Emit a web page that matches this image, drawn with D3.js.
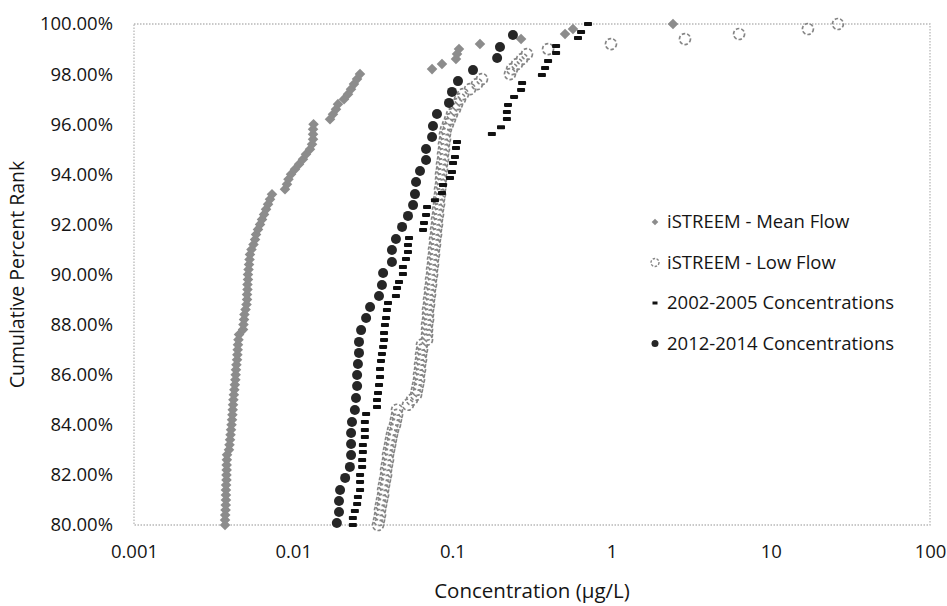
<!DOCTYPE html>
<html>
<head>
<meta charset="utf-8">
<script src="https://cdn.jsdelivr.net/npm/d3@7"></script>
<style>
  body { margin: 0; background: #fff; }
  svg text { font-family: 'Open Sans', 'Noto Sans', sans-serif; fill: #151515; }
</style>
</head>
<body>
<div id="chart"></div>
<script>
// percent ranks shared by both iSTREEM series (top 20% only)
const istreemRank = [80.0,80.2,80.4,80.6,80.8,81.0,81.2,81.4,81.6,81.8,82.0,82.2,82.4,82.6,82.8,83.0,83.2,83.4,83.6,83.8,
  84.0,84.2,84.4,84.6,84.8,85.0,85.2,85.4,85.6,85.8,86.0,86.2,86.4,86.6,86.8,87.0,87.2,87.4,87.6,87.8,
  88.0,88.2,88.4,88.6,88.8,89.0,89.2,89.4,89.6,89.8,90.0,90.2,90.4,90.6,90.8,91.0,91.2,91.4,91.6,91.8,
  92.0,92.2,92.4,92.6,92.8,93.0,93.2,93.4,93.6,93.8,94.0,94.2,94.4,94.6,94.8,95.0,95.2,95.4,95.6,95.8,
  96.0,96.2,96.4,96.6,96.8,97.0,97.2,97.4,97.6,97.8,98.0,98.2,98.4,98.6,98.8,99.0,99.2,99.4,99.6,99.8,100.0]

const meanFlow = [0.00373,0.00373,0.00374,0.00376,0.00377,0.00378,0.00378,0.00378,0.00379,0.00381,
  0.00381,0.00382,0.00382,0.00383,0.00384,0.00395,0.00398,0.00401,0.00404,0.00407,
  0.00410,0.00413,0.00415,0.00417,0.00419,0.00421,0.00424,0.00427,0.00430,0.00433,
  0.00435,0.00437,0.00440,0.00444,0.00446,0.00448,0.00450,0.00453,0.00457,0.00484,
  0.00487,0.00491,0.00494,0.00502,0.00509,0.00513,0.00513,0.00516,0.00516,0.00520,
  0.00520,0.00524,0.00528,0.00532,0.00535,0.00547,0.00563,0.00576,0.00584,0.00601,
  0.00619,0.00637,0.00656,0.00675,0.00695,0.00715,0.00736,0.00888,0.00914,0.00934,
  0.00969,0.01026,0.01088,0.01152,0.01203,0.01275,0.01313,0.01332,0.01332,0.01332,
  0.01342,0.01703,0.01778,0.01857,0.01911,0.02085,0.02209,0.02307,0.02409,0.02517,
  0.02627,0.0745,0.0860,0.1053,0.1069,0.1100,0.149,0.270,0.510,0.572,
  2.43]

const lowFlow = [0.0341,0.0346,0.0351,0.0351,0.0356,0.0361,0.0367,0.0367,0.0372,0.0377,
  0.0383,0.0383,0.0388,0.0394,0.0394,0.0400,0.0406,0.0411,0.0417,0.0424,
  0.0436,0.0442,0.0449,0.0449,0.0526,0.0557,0.0591,0.0599,0.0608,0.0617,
  0.0617,0.0626,0.0626,0.0635,0.0635,0.0644,0.0644,0.0693,0.0693,0.0693,
  0.0693,0.0703,0.0703,0.0703,0.0713,0.0713,0.0723,0.0723,0.0734,0.0734,
  0.0745,0.0745,0.0755,0.0755,0.0766,0.0766,0.0777,0.0777,0.0789,0.0789,
  0.0800,0.0800,0.0812,0.0812,0.0824,0.0824,0.0836,0.0836,0.0848,0.0848,
  0.0848,0.0860,0.0860,0.0873,0.0873,0.0885,0.0885,0.0898,0.0898,0.0911,
  0.0938,0.0966,0.0994,0.1038,0.1069,0.1116,0.1166,0.129,0.1427,0.1534,
  0.230,0.237,0.2545,0.274,0.294,0.399,0.991,2.89,6.32,17.1,
  26.4]

const rank0205 = [80.00,80.28,80.56,80.84,81.12,81.40,81.72,82.00,82.32,82.59,82.91,83.19,83.51,83.79,84.11,84.43,84.71,84.99,
  85.27,85.59,85.91,86.23,86.55,86.83,87.11,87.39,87.66,87.98,88.26,88.58,88.86,89.14,89.46,89.70,90.02,90.30,
  90.62,90.90,91.18,91.46,91.78,92.06,92.38,92.69,92.96,93.25,93.57,93.85,94.09,94.45,94.69,95.05,95.29,95.61,
  95.88,96.21,96.49,96.77,97.09,97.37,97.64,97.96,98.24,98.52,98.84,99.12,99.44,99.68,100.00]
const conc0205 = [0.0237,0.0237,0.0244,0.0252,0.0255,0.0263,0.0263,0.0263,0.0271,0.0271,0.0274,0.0274,0.0282,0.0282,0.0282,0.0287,0.0336,0.0336,
  0.0341,0.0346,0.0351,0.0351,0.0356,0.0361,0.0367,0.0372,0.0372,0.0377,0.0383,0.0388,0.0394,0.0442,0.0449,0.0462,0.0489,0.0489,
  0.0511,0.0526,0.0526,0.0534,0.0654,0.0663,0.0683,0.0693,0.0777,0.0860,0.0873,0.0966,0.0994,0.1009,0.1038,0.1053,0.1069,0.177,
  0.202,0.220,0.220,0.2235,0.244,0.270,0.274,0.365,0.382,0.399,0.448,0.448,0.615,0.643,0.711]

const rank1214 = [80.08,80.52,80.96,81.40,81.88,82.32,82.79,83.23,83.67,84.11,84.59,85.07,85.55,85.99,86.43,86.87,87.31,87.78,
  88.26,88.70,89.14,89.58,90.06,90.50,90.98,91.42,91.90,92.34,92.77,93.21,93.69,94.13,94.57,95.01,95.49,95.93,
  96.41,96.85,97.29,97.72,98.16,98.64,99.08,99.56]
const conc1214 = [0.0188,0.0194,0.0194,0.0197,0.0212,0.0227,0.0231,0.0231,0.0231,0.0234,0.0244,0.0248,0.0252,0.0252,0.0255,0.0259,0.0259,0.0267,
  0.0287,0.0304,0.0346,0.0361,0.0367,0.0417,0.0417,0.0442,0.0483,0.0526,0.0566,0.0582,0.0591,0.0626,0.0683,0.0683,0.0745,0.0755,
  0.0800,0.0952,0.0994,0.1084,0.1347,0.191,0.199,0.240]

const xTicks = [0.001, 0.01, 0.1, 1, 10, 100]
const xTickLabels = ['0.001', '0.01', '0.1', '1', '10', '100']
const yTicks = [80, 82, 84, 86, 88, 90, 92, 94, 96, 98, 100]
const legendLabels = ['iSTREEM - Mean Flow', 'iSTREEM - Low Flow', '2002-2005 Concentrations', '2012-2014 Concentrations']

const width = 947
const height = 606
const margin = { top: 24, right: 17, bottom: 81, left: 134 }

const svg = d3.select('#chart')
  .append('svg')
  .attr('width', width)
  .attr('height', height)

const x = d3.scaleLog()
  .domain([0.001, 100])
  .range([margin.left, width - margin.right])

const y = d3.scaleLinear()
  .domain([80, 100])
  .range([height - margin.bottom, margin.top])

// dotted plot frame
svg.append('rect')
  .attr('x', x(0.001))
  .attr('y', y(100))
  .attr('width', x(100) - x(0.001))
  .attr('height', y(80) - y(100))
  .attr('fill', 'none')
  .attr('stroke', '#b8b8b8')
  .attr('stroke-width', 1.3)
  .attr('stroke-dasharray', '1.5,1.5')

// axes, labels only
const xAxis = svg.append('g')
  .attr('transform', `translate(0,${y(80) + 17})`)
  .call(d3.axisBottom(x).tickValues(xTicks).tickSize(0).tickFormat((d, i) => xTickLabels[i]))
xAxis.select('.domain').remove()
xAxis.selectAll('text').attr('font-size', 18.5).attr('fill', '#151515')

const yAxis = svg.append('g')
  .attr('transform', `translate(${x(0.001) - 18},0)`)
  .call(d3.axisLeft(y).tickValues(yTicks).tickSize(0).tickFormat(d => d.toFixed(2) + '%'))
yAxis.select('.domain').remove()
yAxis.selectAll('text').attr('font-size', 18.5).attr('fill', '#151515')

svg.append('text')
  .attr('x', (x(0.001) + x(100)) / 2)
  .attr('y', 598)
  .attr('text-anchor', 'middle')
  .attr('font-size', 20.5)
  .text('Concentration (µg/L)')

svg.append('text')
  .attr('transform', `translate(24,${(y(80) + y(100)) / 2}) rotate(-90)`)
  .attr('text-anchor', 'middle')
  .attr('font-size', 19.5)
  .text('Cumulative Percent Rank')

const diamond = d3.symbol(d3.symbolSquare, 56)()

// iSTREEM mean flow: gray diamonds
svg.append('g')
  .selectAll('path')
  .data(meanFlow.map((c, i) => ({ c, r: istreemRank[i] })))
  .join('path')
  .attr('d', diamond)
  .attr('transform', d => `translate(${x(d.c)},${y(d.r)}) rotate(45)`)
  .attr('fill', '#8c8c8c')

// iSTREEM low flow: dashed open circles
svg.append('g')
  .selectAll('circle')
  .data(lowFlow.map((c, i) => ({ c, r: istreemRank[i] })))
  .join('circle')
  .attr('cx', d => x(d.c))
  .attr('cy', d => y(d.r))
  .attr('r', 5.5)
  .attr('fill', 'none')
  .attr('stroke', '#858585')
  .attr('stroke-width', 1.7)
  .attr('stroke-dasharray', '3.5,2')

// 2002-2005: black dashes
svg.append('g')
  .selectAll('rect')
  .data(conc0205.map((c, i) => ({ c, r: rank0205[i] })))
  .join('rect')
  .attr('x', d => x(d.c) - 4)
  .attr('y', d => y(d.r) - 2)
  .attr('width', 8)
  .attr('height', 4)
  .attr('rx', 0.8)
  .attr('fill', '#111')

// 2012-2014: black dots
svg.append('g')
  .selectAll('circle')
  .data(conc1214.map((c, i) => ({ c, r: rank1214[i] })))
  .join('circle')
  .attr('cx', d => x(d.c))
  .attr('cy', d => y(d.r))
  .attr('r', 5)
  .attr('fill', '#262626')

// legend
const legend = svg.append('g').attr('transform', 'translate(655,222)')
const rows = legend.selectAll('g')
  .data(legendLabels)
  .join('g')
  .attr('transform', (d, i) => `translate(0,${i * 40.5})`)

rows.append('text')
  .attr('x', 12)
  .attr('dy', '0.35em')
  .attr('font-size', 18.5)
  .text(d => d)

rows.filter((d, i) => i === 0).append('path')
  .attr('d', d3.symbol(d3.symbolSquare, 22)())
  .attr('transform', 'rotate(45)')
  .attr('fill', '#8c8c8c')
rows.filter((d, i) => i === 1).append('circle')
  .attr('r', 4)
  .attr('fill', 'none')
  .attr('stroke', '#858585')
  .attr('stroke-width', 1.4)
  .attr('stroke-dasharray', '2.5,1.5')
rows.filter((d, i) => i === 2).append('rect')
  .attr('x', -2.5)
  .attr('y', -1.5)
  .attr('width', 5)
  .attr('height', 3)
  .attr('fill', '#111')
rows.filter((d, i) => i === 3).append('circle')
  .attr('r', 3.5)
  .attr('fill', '#262626')
</script>
</body>
</html>
